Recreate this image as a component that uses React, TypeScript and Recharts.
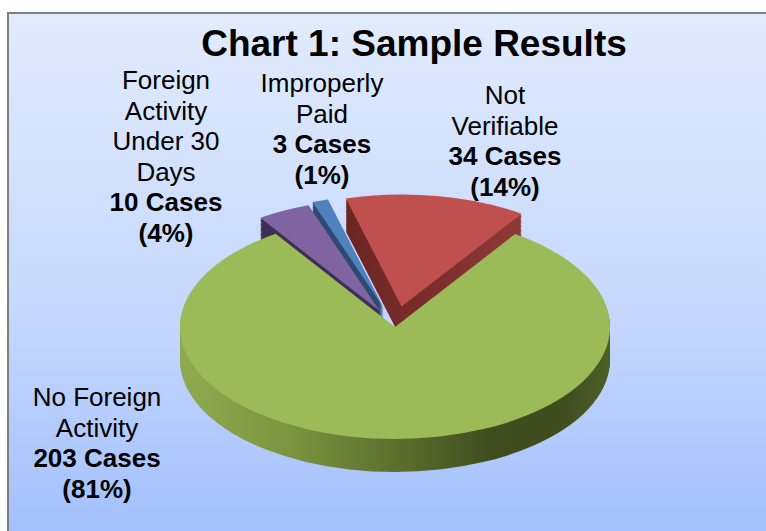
import React from "react";
import { PieChart, Pie, Cell } from "recharts";

// ---- data ----
const categories = ["Not Verifiable", "No Foreign Activity", "Foreign Activity Under 30 Days", "Improperly Paid"];
const caseCounts = [34, 203, 10, 3];
const labelLines = [["Not", "Verifiable"], ["No Foreign", "Activity"], ["Foreign", "Activity", "Under 30", "Days"], ["Improperly", "Paid"]];
const chartTitle = "Chart 1: Sample Results";

// ---- styles / layout ----
const topColors = ["#c0504d", "#9bbb59", "#8064a2", "#4f81bd"];
const sideColors = ["url(#redSide)", "url(#greenSide)", "#3d2f55", "#2c4a72"];
const explodeFrac = [0.185, 0, 0.16, 0.18];
const labelAnchors = [
  { x: 505, y: 95 },
  { x: 97, y: 397 },
  { x: 166, y: 80 },
  { x: 322, y: 83 },
];

const W = 766;
const H = 531;
const RX = 215;
const RY = 112;
const S = RY / RX;
const CX = 395;
const CY_P = 327;
const CY = CY_P / S;
const DEPTH_P = 33;
const DEPTH = DEPTH_P / S;
const LAYERS = 26;
const START = 105;
const END = START - 360;
const LINE_H = 30.5;
const FONT = "'Liberation Sans', Arial, Helvetica, sans-serif";

const pieData = categories.map((name, i) => ({ name, value: caseCounts[i] }));
const total = caseCounts.reduce((a, b) => a + b, 0);
const offsets = caseCounts.map((v, i) => {
  const before = caseCounts.slice(0, i).reduce((a, b) => a + b, 0);
  const mid = ((START - ((before + v / 2) / total) * 360) * Math.PI) / 180;
  const d = explodeFrac[i] * RX;
  return { dx: d * Math.cos(mid), dy: -d * Math.sin(mid) };
});

const renderPie = (key: string, idx: number, drop: number, fill: string) => (
  <Pie
    key={key}
    data={pieData}
    dataKey="value"
    nameKey="name"
    cx={CX + offsets[idx].dx}
    cy={CY + offsets[idx].dy + drop}
    innerRadius={0}
    outerRadius={RX}
    startAngle={START}
    endAngle={END}
    isAnimationActive={false}
    stroke="none"
    labelLine={false}
    legendType="none"
  >
    {pieData.map((d, j) => (
      <Cell key={d.name} fill={j === idx ? fill : "none"} stroke="none" />
    ))}
  </Pie>
);

export default function App() {
  const backOrder = [0, 3, 2];
  const pies: React.ReactNode[] = [];
  for (const idx of backOrder) {
    for (let k = LAYERS; k >= 1; k--) {
      pies.push(renderPie(`s${idx}-${k}`, idx, (DEPTH * k) / LAYERS, sideColors[idx]));
    }
  }
  for (const idx of backOrder) {
    pies.push(renderPie(`t${idx}`, idx, 0, topColors[idx]));
  }
  for (let k = LAYERS; k >= 1; k--) {
    pies.push(renderPie(`s1-${k}`, 1, (DEPTH * k) / LAYERS, sideColors[1]));
  }
  pies.push(renderPie(`t1`, 1, 0, topColors[1]));

  const chartH = CY + RX + DEPTH + 60;

  return (
    <div style={{ position: "fixed", left: 0, top: 0, width: W, height: H, overflow: "hidden" }}>
      <svg width={0} height={0} style={{ position: "absolute" }}>
        <defs>
          <linearGradient id="greenSide" gradientUnits="userSpaceOnUse" x1={180} y1={0} x2={610} y2={0}>
            <stop offset="0" stopColor="#8fab50" />
            <stop offset="0.25" stopColor="#7b9540" />
            <stop offset="0.5" stopColor="#5c702d" />
            <stop offset="0.72" stopColor="#404e1f" />
            <stop offset="0.88" stopColor="#3f4c1e" />
            <stop offset="1" stopColor="#4d5f28" />
          </linearGradient>
          <linearGradient id="redSide" gradientUnits="userSpaceOnUse" x1={340} y1={0} x2={520} y2={0}>
            <stop offset="0" stopColor="#6a2523" />
            <stop offset="0.6" stopColor="#7e302e" />
            <stop offset="1" stopColor="#8e3a37" />
          </linearGradient>
        </defs>
      </svg>
      <div
        style={{
          position: "absolute",
          left: 7,
          top: 12,
          width: 780,
          height: 540,
          boxSizing: "border-box",
          borderLeft: "2px solid #7f7f7f",
          borderTop: "2px solid #7f7f7f",
          background: "linear-gradient(to bottom, #e1ebfd 0%, #c6d8fd 55%, #a0befd 100%)",
        }}
      />
      <div
        style={{
          position: "absolute",
          left: 0,
          top: 0,
          width: W,
          height: chartH,
          transform: `scaleY(${S})`,
          transformOrigin: "0 0",
        }}
      >
        <PieChart width={W} height={chartH} margin={{ top: 0, right: 0, bottom: 0, left: 0 }}>
          {pies}
        </PieChart>
      </div>
      <svg width={W} height={H} style={{ position: "absolute", left: 0, top: 0 }}>
        <text x={414} y={43} textAnchor="middle" dominantBaseline="central" fontFamily={FONT} fontWeight="bold" fontSize={37} fill="#000">
          {chartTitle}
        </text>
        {categories.map((c, i) => {
          const pct = Math.round((caseCounts[i] / total) * 100);
          const lines = [
            ...labelLines[i].map((t) => ({ t, b: false })),
            { t: `${caseCounts[i]} Cases`, b: true },
            { t: `(${pct}%)`, b: true },
          ];
          return (
            <g key={c}>
              {lines.map((ln, j) => (
                <text
                  key={j}
                  x={labelAnchors[i].x}
                  y={labelAnchors[i].y + j * LINE_H}
                  textAnchor="middle"
                  dominantBaseline="central"
                  fontFamily={FONT}
                  fontSize={26}
                  fontWeight={ln.b ? "bold" : "normal"}
                  fill="#000"
                >
                  {ln.t}
                </text>
              ))}
            </g>
          );
        })}
      </svg>
    </div>
  );
}
